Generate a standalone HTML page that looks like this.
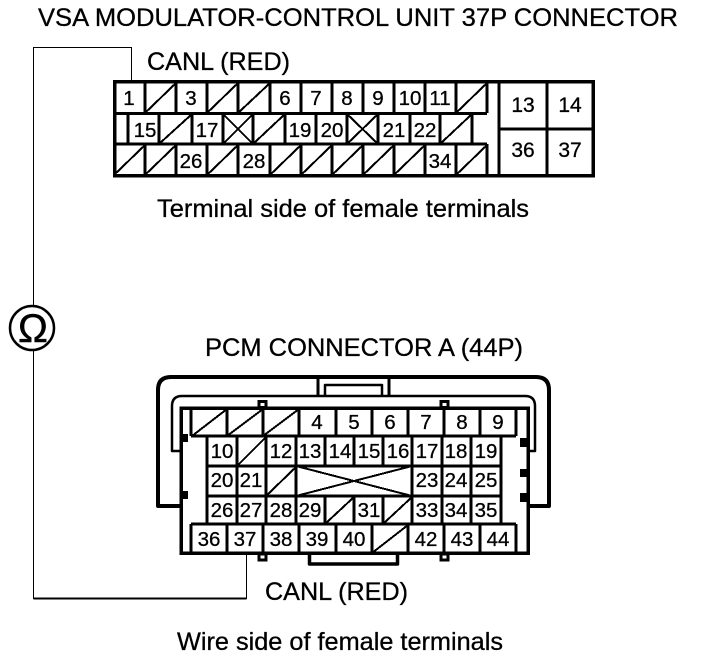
<!DOCTYPE html>
<html><head><meta charset="utf-8"><style>
html,body{margin:0;padding:0;background:#fff}
svg{display:block}
text{font-family:"Liberation Sans",sans-serif;fill:#000;stroke:#000;stroke-width:.3;text-anchor:middle}
.n{font-size:20.5px}
.b{font-size:21px}
.l{font-size:25px;text-anchor:start}
</style></head><body>
<svg width="704" height="660" viewBox="0 0 704 660" xmlns="http://www.w3.org/2000/svg">
<rect width="704" height="660" fill="#fff"/>
<!-- labels -->
<text class="l" x="38" y="26" textLength="640" lengthAdjust="spacingAndGlyphs">VSA MODULATOR-CONTROL UNIT 37P CONNECTOR</text>
<text class="l" x="147" y="70" textLength="143" lengthAdjust="spacingAndGlyphs">CANL (RED)</text>
<text class="l" x="157" y="217" textLength="372" lengthAdjust="spacingAndGlyphs">Terminal side of female terminals</text>
<text class="l" x="205" y="356" textLength="318" lengthAdjust="spacingAndGlyphs">PCM CONNECTOR A (44P)</text>
<text class="l" x="265" y="600" textLength="143" lengthAdjust="spacingAndGlyphs">CANL (RED)</text>
<text class="l" x="177" y="650" textLength="326" lengthAdjust="spacingAndGlyphs">Wire side of female terminals</text>
<!-- wires -->
<g fill="none" stroke="#000" stroke-width="1" shape-rendering="crispEdges">
<path d="M33.5 305V47.5H131.5V82"/>
<path d="M33.5 350V598.5H246.5V553"/>
<path d="M33.5 598.5H246.5" stroke-width="2"/>
</g>
<circle cx="32" cy="328" r="22" fill="#fff" stroke="#000" stroke-width="2.5"/>
<text x="33" y="342" style="font-size:40px;stroke-width:.5">Ω</text>
<!-- top connector -->
<g shape-rendering="crispEdges">
<rect x="114.5" y="81.5" width="478.5" height="94" fill="none" stroke="#000" stroke-width="3.5"/>
<g fill="none" stroke="#000" stroke-width="3">
<path d="M113 113.5H487M113 144H487"/>
<path d="M145 82V113M176 82V113M207 82V113M238 82V113M270 82V113M301 82V113M332 82V113M363 82V113M394 82V113M425 82V113M456 82V113M487 82V113"/>
<path d="M128 113V144M159 113V144M192 113V144M223 113V144M253 113V144M285 113V144M316 113V144M347 113V144M378 113V144M410 113V144M440 113V144M472 113V144"/>
<path d="M145 144V175M176 144V175M207 144V175M238 144V175M270 144V175M301 144V175M332 144V175M363 144V175M394 144V175M425 144V175M456 144V175M487 144V175"/>
<path d="M499 82V175M547 82V175M499 129H593"/>
</g>
<g fill="none" stroke="#000" stroke-width="2">
<path d="M145 113L176 83M207 113L238 83M238 113L270 83M456 113L487 83"/>
<path d="M159 144L192 114M253 144L285 114M440 144L472 114"/>
<path d="M223 114L253 144M223 144L253 114M347 114L378 144M347 144L378 114"/>
<path d="M114 175L145 145M145 175L176 145M207 175L238 145M270 175L301 145M301 175L332 145M332 175L363 145M363 175L394 145M394 175L425 145M456 175L487 145"/>
</g>
</g>
<text class="n" x="129" y="105">1</text><text class="n" x="191" y="105">3</text><text class="n" x="285" y="105">6</text><text class="n" x="316" y="105">7</text><text class="n" x="347" y="105">8</text><text class="n" x="378" y="105">9</text><text class="n" x="410" y="105">10</text><text class="n" x="440" y="105">11</text>
<text class="n" x="145" y="137">15</text><text class="n" x="207" y="137">17</text><text class="n" x="300" y="137">19</text><text class="n" x="332" y="137">20</text><text class="n" x="394" y="137">21</text><text class="n" x="425" y="137">22</text>
<text class="n" x="191" y="168">26</text><text class="n" x="254" y="168">28</text><text class="n" x="440" y="168">34</text>
<text class="b" x="523" y="112">13</text><text class="b" x="570" y="112">14</text><text class="b" x="523" y="157">36</text><text class="b" x="570" y="157">37</text>
<!-- bottom connector shells -->
<g fill="none" stroke="#000" stroke-linejoin="round">
<path stroke-width="4" d="M180 506H158V390Q158 377 171 377H536Q549 377 549 390V506H528"/>
<path stroke-width="2.5" d="M180 451H172V406Q172 396 182 396H525Q535 396 535 406V451H527"/>
<path stroke-width="3" d="M318 377V396M389 377V396"/>
<path stroke-width="2.5" d="M325 396V385H382V396"/>
<path stroke-width="3.5" d="M309.500 553V564H397.500V553"/>
</g>
<g shape-rendering="crispEdges">
<rect x="181" y="408" width="347" height="145" fill="#fff" stroke="#000" stroke-width="3.5"/>
<g fill="#fff" stroke="#000" stroke-width="3">
<rect x="259" y="401.5" width="7" height="6"/><rect x="441" y="401.5" width="7" height="6"/>
<rect x="259" y="554" width="7" height="6"/><rect x="441" y="554" width="7" height="6"/>
</g>
<g fill="#000">
<rect x="180" y="434" width="8" height="8"/><rect x="180" y="491" width="8" height="8"/>
<rect x="520" y="438" width="8" height="9"/><rect x="520" y="469" width="8" height="8"/><rect x="520" y="493" width="8" height="9"/>
</g>
<g fill="none" stroke="#000" stroke-width="3">
<path d="M191 408V436M227 408V436M263 408V436M299 408V436M336 408V436M372 408V436M408 408V436M444 408V436M480 408V436M516 408V436"/>
<path d="M191 436H516"/>
<path d="M207 436V524M237 436V466M266 436V524M296 436V524M325 436V466M354 436V466M383 436V466M412 436V524M442 436V524M471 436V524M501 436V524"/>
<path d="M237 466V524M207 466H501M207 496H501M325 496V524M354 496V524M383 496V524"/>
<path d="M191 524H516M191 524V553M227 524V553M263 524V553M299 524V553M336 524V553M372 524V553M408 524V553M444 524V553M480 524V553M516 524V553"/>
</g>
<g fill="none" stroke="#000" stroke-width="2">
<path d="M192 436L227 409M227 436L263 409M263 436L299 409"/>
<path d="M237 466L266 437M266 496L296 467"/>
<path d="M296 466L412 496M296 496L412 466"/>
<path d="M325 524L354 497M383 524L412 497"/>
<path d="M372 553L408 525"/>
</g>
</g>
<text class="n" x="317" y="429">4</text><text class="n" x="354" y="429">5</text><text class="n" x="390" y="429">6</text><text class="n" x="426" y="429">7</text><text class="n" x="462" y="429">8</text><text class="n" x="498" y="429">9</text>
<text class="n" x="222" y="458">10</text><text class="n" x="281" y="458">12</text><text class="n" x="310" y="458">13</text><text class="n" x="340" y="458">14</text><text class="n" x="369" y="458">15</text><text class="n" x="398" y="458">16</text><text class="n" x="427" y="458">17</text><text class="n" x="456" y="458">18</text><text class="n" x="486" y="458">19</text>
<text class="n" x="222" y="487">20</text><text class="n" x="251" y="487">21</text><text class="n" x="427" y="487">23</text><text class="n" x="456" y="487">24</text><text class="n" x="486" y="487">25</text>
<text class="n" x="222" y="517">26</text><text class="n" x="251" y="517">27</text><text class="n" x="281" y="517">28</text><text class="n" x="310" y="517">29</text><text class="n" x="369" y="517">31</text><text class="n" x="427" y="517">33</text><text class="n" x="456" y="517">34</text><text class="n" x="486" y="517">35</text>
<text class="n" x="209" y="546">36</text><text class="n" x="245" y="546">37</text><text class="n" x="281" y="546">38</text><text class="n" x="317" y="546">39</text><text class="n" x="354" y="546">40</text><text class="n" x="426" y="546">42</text><text class="n" x="462" y="546">43</text><text class="n" x="498" y="546">44</text>
</svg>
</body></html>
